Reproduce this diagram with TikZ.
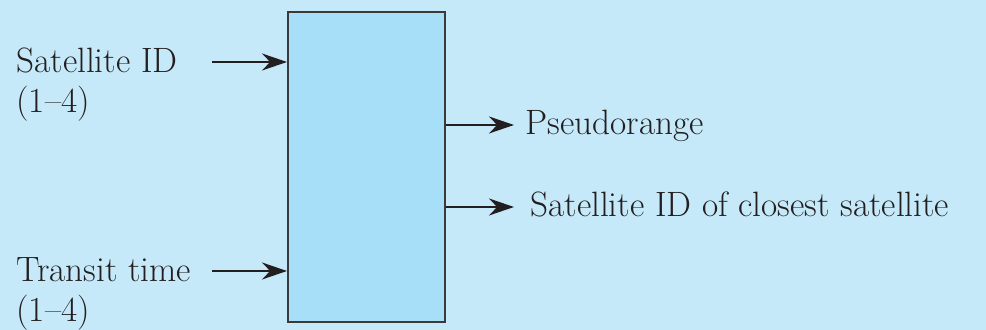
\documentclass[tikz,border=0pt]{standalone}
\usetikzlibrary{arrows.meta}
\definecolor{bg}{HTML}{C6E9FA}
\definecolor{boxfill}{HTML}{A8DFF8}
\definecolor{ink}{HTML}{231F20}
\definecolor{edge}{HTML}{3A3A3A}
\begin{document}
\begin{tikzpicture}[x=0.5pt,y=-0.5pt,
  lbl/.style={font=\fontsize{17.6}{20}\selectfont, text=ink, inner sep=0pt, anchor=base west},
  flow/.style={draw=ink, line width=1pt, -{Stealth[length=12.5pt,width=8.5pt]}},
  block/.style={draw=edge, fill=boxfill, line width=1pt, minimum width=78.5pt,
    minimum height=155pt, inner sep=0pt}]
% background panel
\fill[bg] (0,0) rectangle (986,330);
\useasboundingbox (0,0) rectangle (986,330);

% processing block
\node[block] (unit) at (366.5,167) {};

% inputs
\node[lbl] (satid) at (16,73) {Satellite ID};
\node[lbl] (satrng) at (16,113) {(1--4)};
\node[lbl] (transit) at (16,282) {Transit time};
\node[lbl] (trrng) at (16,322) {(1--4)};
\coordinate (in1) at (212,62);
\coordinate (in2) at (212,271);
\draw[flow] (in1) -- (unit.west |- in1);
\draw[flow] (in2) -- (unit.west |- in2);

% outputs
\node[lbl] (pseudo) at (525,135) {Pseudorange};
\node[lbl] (closest) at (530,217) {Satellite ID of closest satellite};
\coordinate (out1) at (514,125);
\coordinate (out2) at (514,207);
\draw[flow] (unit.east |- out1) -- (out1);
\draw[flow] (unit.east |- out2) -- (out2);
\end{tikzpicture}
\end{document}
